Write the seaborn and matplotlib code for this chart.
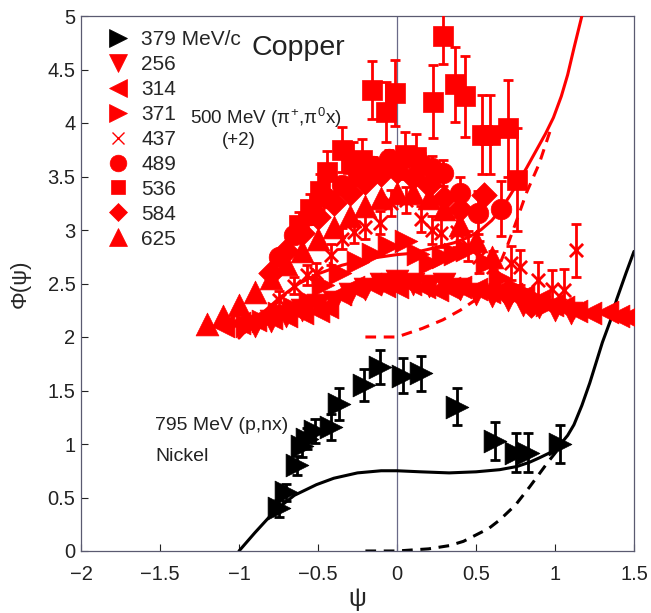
import numpy as np
import pandas as pd
import matplotlib
matplotlib.use("Agg")
import matplotlib.pyplot as plt
import seaborn as sns
from matplotlib.lines import Line2D

# 795 MeV (p,nx) Nickel, 379 MeV/c
ni_x = [-0.75, -0.70, -0.63, -0.60, -0.57, -0.52, -0.42, -0.37, -0.21, -0.11, 0.04, 0.15, 0.38, 0.62, 0.75, 0.83, 1.03]
ni_y = [0.40, 0.55, 0.80, 0.98, 1.05, 1.12, 1.16, 1.37, 1.55, 1.72, 1.64, 1.66, 1.35, 1.03, 0.92, 0.92, 1.00]
ni_err = [0.08, 0.08, 0.09, 0.10, 0.10, 0.11, 0.12, 0.15, 0.15, 0.16, 0.16, 0.16, 0.17, 0.18, 0.18, 0.18, 0.18]

# Copper (pi+,pi0 x), shifted by +2
cu256_x = [-0.9, -0.8, -0.7, -0.6, -0.5, -0.4, -0.3, -0.2, -0.1, 0.0, 0.1, 0.2, 0.3, 0.4, 0.5, 0.6, 0.7, 0.8, 0.9, 1.0, 1.1]
cu256_y = [2.10, 2.15, 2.20, 2.25, 2.30, 2.33, 2.40, 2.45, 2.50, 2.52, 2.50, 2.48, 2.50, 2.45, 2.40, 2.38, 2.35, 2.30, 2.28, 2.25, 2.22]

cu314_x = [-1.10, -1.00, -0.90, -0.80, -0.70, -0.60, -0.50, -0.44, -0.36, -0.28, -0.17, -0.08, 0.00, 0.08, 0.17,
           0.25, 0.33, 0.40, 0.50, 0.58, 0.65, 0.72, 0.80, 0.90, 0.98, 1.05, 1.13, 1.22, 1.33, 1.40, 1.46]
cu314_y = [2.10, 2.13, 2.16, 2.18, 2.20, 2.22, 2.24, 2.28, 2.40, 2.47, 2.50, 2.48, 2.47, 2.50, 2.47,
           2.44, 2.46, 2.47, 2.45, 2.42, 2.44, 2.40, 2.38, 2.35, 2.30, 2.28, 2.24, 2.22, 2.23, 2.20, 2.19]

cu371_x = [-0.95, -0.85, -0.75, -0.65, -0.55, -0.47, -0.36, -0.25, -0.15, -0.05, 0.06, 0.13, 0.21, 0.29, 0.37,
           0.44, 0.57, 0.65, 0.75, 0.85, 0.95]
cu371_y = [2.10, 2.15, 2.22, 2.27, 2.33, 2.49, 2.60, 2.70, 2.78, 2.85, 2.90, 2.78, 2.69, 2.75, 2.78,
           2.81, 2.69, 2.55, 2.45, 2.38, 2.30]

cu437_x = [-0.75, -0.65, -0.57, -0.51, -0.42, -0.35, -0.27, -0.20, -0.11, -0.04, 0.06, 0.15, 0.22, 0.28, 0.38,
           0.45, 0.52, 0.61, 0.72, 0.78, 0.89, 0.98, 1.06, 1.13]
cu437_y = [2.35, 2.48, 2.58, 2.60, 2.77, 2.92, 2.98, 3.03, 3.07, 3.25, 3.28, 3.10, 3.00, 2.97, 2.98,
           2.85, 2.75, 2.65, 2.69, 2.65, 2.53, 2.45, 2.44, 2.81]
cu437_err = [0.08, 0.08, 0.09, 0.09, 0.10, 0.10, 0.10, 0.11, 0.11, 0.12, 0.12, 0.12, 0.13, 0.13, 0.14,
             0.14, 0.15, 0.15, 0.16, 0.16, 0.17, 0.18, 0.20, 0.25]

cu489_x = [-0.75, -0.65, -0.55, -0.45, -0.35, -0.25, -0.15, -0.05, 0.05, 0.15, 0.22, 0.29, 0.40, 0.51, 0.66]
cu489_y = [2.75, 2.95, 3.14, 3.30, 3.42, 3.52, 3.60, 3.66, 3.68, 3.62, 3.58, 3.53, 3.35, 3.16, 3.20]
cu489_err = [0.05, 0.06, 0.06, 0.07, 0.07, 0.08, 0.08, 0.09, 0.09, 0.10, 0.11, 0.12, 0.15, 0.20, 0.26]

cu536_x = [-0.62, -0.55, -0.49, -0.44, -0.35, -0.28, -0.22, -0.16, -0.07, -0.01, 0.05, 0.12, 0.23, 0.29, 0.37,
           0.43, 0.54, 0.59, 0.70, 0.76]
cu536_y = [3.05, 3.20, 3.36, 3.54, 3.75, 3.62, 3.65, 4.31, 4.10, 4.28, 3.70, 3.68, 4.20, 4.81, 4.36,
           4.25, 3.89, 3.89, 3.95, 3.47]
cu536_err = [0.12, 0.14, 0.16, 0.20, 0.21, 0.20, 0.20, 0.27, 0.28, 0.31, 0.22, 0.22, 0.34, 0.26, 0.35,
             0.38, 0.37, 0.37, 0.45, 0.48]

cu584_x = [-0.80, -0.70, -0.60, -0.50, -0.40, -0.30, -0.20, -0.10, 0.00, 0.10, 0.20, 0.30, 0.40, 0.55, 0.70, 0.85]
cu584_y = [2.60, 2.80, 2.97, 3.12, 3.25, 3.35, 3.45, 3.52, 3.55, 3.50, 3.42, 3.30, 3.20, 3.33, 2.40, 2.30]

cu625_x = [-1.20, -1.10, -1.00, -0.90, -0.80, -0.70, -0.60, -0.50, -0.40, -0.30, -0.20, -0.10, 0.00, 0.10, 0.20,
           0.30, 0.40, 0.50, 0.60]
cu625_y = [2.12, 2.20, 2.30, 2.42, 2.55, 2.68, 2.80, 2.92, 3.03, 3.13, 3.22, 3.30, 3.35, 3.35, 3.30,
           3.20, 3.05, 2.90, 2.75]

# theory curves
ni_fit_x = [-1.0, -0.9, -0.77, -0.65, -0.51, -0.4, -0.25, -0.1, 0.0, 0.15, 0.33, 0.5, 0.65, 0.76, 0.84, 0.9, 0.97,
            1.03, 1.08, 1.12, 1.17, 1.22, 1.26, 1.3, 1.35, 1.39, 1.45, 1.5]
ni_fit_y = [0.0, 0.17, 0.38, 0.52, 0.62, 0.68, 0.73, 0.75, 0.75, 0.74, 0.73, 0.74, 0.76, 0.79, 0.83, 0.87, 0.92,
            0.99, 1.08, 1.18, 1.36, 1.57, 1.76, 1.95, 2.15, 2.35, 2.6, 2.8]
ni_dash_x = [-0.2, 0.0, 0.1, 0.2, 0.33, 0.42, 0.5, 0.58, 0.65, 0.75, 0.84, 0.95, 1.03]
ni_dash_y = [0.0, 0.0, 0.01, 0.02, 0.05, 0.09, 0.15, 0.21, 0.29, 0.43, 0.60, 0.82, 0.97]
cu_fit_x = [-1.0, -0.87, -0.74, -0.62, -0.5, -0.35, -0.19, 0.0, 0.08, 0.2, 0.36, 0.45, 0.53, 0.6, 0.65, 0.71, 0.76,
            0.82, 0.88, 0.94, 0.99, 1.04, 1.08, 1.12, 1.17]
cu_fit_y = [1.99, 2.2, 2.37, 2.5, 2.59, 2.67, 2.73, 2.77, 2.78, 2.82, 2.88, 2.93, 3.0, 3.09, 3.18, 3.31, 3.43,
            3.58, 3.74, 3.9, 4.05, 4.25, 4.45, 4.7, 5.0]
cu_dash_x = [-0.2, 0.0, 0.16, 0.29, 0.4, 0.5, 0.6, 0.65, 0.7, 0.76, 0.82, 0.9, 0.97]
cu_dash_y = [2.0, 2.0, 2.08, 2.16, 2.25, 2.35, 2.52, 2.68, 2.86, 3.1, 3.35, 3.62, 3.93]

legend_labels = ["379 MeV/c", "256", "314", "371", "437", "489", "536", "584", "625"]

RED = "#ff0000"
sns.set_style("white")
plt.rcParams["font.family"] = ["Liberation Sans", "DejaVu Sans"]
plt.rcParams["mathtext.fontset"] = "custom"
plt.rcParams["mathtext.rm"] = "Liberation Sans"
plt.rcParams["mathtext.it"] = "Liberation Sans"

fig = plt.figure(figsize=(6.51, 6.13), dpi=100)
ax = fig.add_axes([81 / 651, 1 - 551 / 613, (634 - 81) / 651, (551 - 16) / 613])

ax.axvline(0, color="#6a6a88", lw=0.9, zorder=1)

# black data and curves
sns.lineplot(x=ni_fit_x, y=ni_fit_y, ax=ax, color="black", lw=2.2, sort=False, zorder=2)
sns.lineplot(x=ni_dash_x, y=ni_dash_y, ax=ax, color="black", lw=2.2, sort=False, zorder=2,
             linestyle=(0, (3.5, 2.5)))
ax.errorbar(ni_x, ni_y, yerr=ni_err, fmt="none", ecolor="black", elinewidth=2, capsize=3.5, capthick=2, zorder=3)
sns.scatterplot(x=ni_x, y=ni_y, ax=ax, marker=">", s=270, color="black", edgecolor="black", linewidth=0.5, zorder=4)

# red data
ebkw = dict(fmt="none", ecolor=RED, elinewidth=2, capsize=3.5, capthick=2, zorder=3)
ax.errorbar(cu437_x, cu437_y, yerr=cu437_err, **ebkw)
ax.errorbar(cu489_x, cu489_y, yerr=cu489_err, **ebkw)
ax.errorbar(cu536_x, cu536_y, yerr=cu536_err, **ebkw)

series = [
    (cu625_x, cu625_y, "^", 270),
    (cu584_x, cu584_y, "D", 170),
    (cu489_x, cu489_y, "o", 220),
    (cu536_x, cu536_y, "s", 190),
    (cu256_x, cu256_y, "v", 270),
    (cu314_x, cu314_y, "<", 270),
    (cu371_x, cu371_y, ">", 270),
]
for sx, sy, mk, sz in series:
    sns.scatterplot(x=sx, y=sy, ax=ax, marker=mk, s=sz, color=RED, edgecolor=RED, linewidth=0.5, zorder=4)
sns.scatterplot(x=cu437_x, y=cu437_y, ax=ax, marker="x", s=90, color=RED, linewidth=2, zorder=4)

sns.lineplot(x=cu_fit_x, y=cu_fit_y, ax=ax, color=RED, lw=2.2, sort=False, zorder=5)
sns.lineplot(x=cu_dash_x, y=cu_dash_y, ax=ax, color=RED, lw=2.2, sort=False, zorder=5,
             linestyle=(0, (3.5, 2.5)))

ax.set_xlim(-2, 1.5)
ax.set_ylim(0, 5)
ax.set_xticks(np.arange(-2, 1.51, 0.5))
ax.set_yticks(np.arange(0, 5.01, 0.5))
ax.set_xticklabels(["\u22122", "\u22121.5", "\u22121", "\u22120.5", "0", "0.5", "1", "1.5"])
ax.set_yticklabels(["0", "0.5", "1", "1.5", "2", "2.5", "3", "3.5", "4", "4.5", "5"])
ax.tick_params(direction="in", length=5, width=0.8, colors="#222222", labelsize=14.5,
               bottom=True, left=True, top=False, right=False)
ax.tick_params(axis="x", pad=10)
ax.tick_params(axis="y", pad=4)
for sp in ax.spines.values():
    sp.set_color("#5a5a70")
    sp.set_linewidth(0.9)
ax.set_xlabel("ψ", fontsize=18, labelpad=2)
ax.set_ylabel("Φ(ψ)", fontsize=16, labelpad=12)

# legend
markers = [(">", "black", 13, None), ("v", RED, 13, None), ("<", RED, 13, None), (">", RED, 13, None),
           ("x", RED, 8, 1.0), ("o", RED, 12, None), ("s", RED, 10.5, None), ("D", RED, 9.5, None), ("^", RED, 13, None)]
handles = []
for (mk, col, ms, mew) in markers:
    handles.append(Line2D([], [], linestyle="none", marker=mk, color=col, markersize=ms,
                          markeredgewidth=mew if mew else 0.5))
ax.legend(handles, legend_labels, loc="upper left", bbox_to_anchor=(0.022, 0.997), frameon=False,
          fontsize=15, handletextpad=0.5, labelspacing=0.285, borderaxespad=0.2, handlelength=1.2)

ax.text(-0.92, 4.7, "Copper", fontsize=20.5, ha="left", va="center", color="#222222")
ax.text(-1.31, 4.05, "500 MeV ($\\pi^{+}$,$\\pi^{0}$x)", fontsize=13.5, ha="left", va="center", color="#222222")
ax.text(-1.0, 3.84, "(+2)", fontsize=13.5, ha="center", va="center", color="#222222")
ax.text(-1.53, 1.17, "795 MeV (p,nx)", fontsize=14, ha="left", va="center", color="#222222")
ax.text(-1.53, 0.88, "Nickel", fontsize=14, ha="left", va="center", color="#222222")

fig.savefig("out.png", dpi=100)
